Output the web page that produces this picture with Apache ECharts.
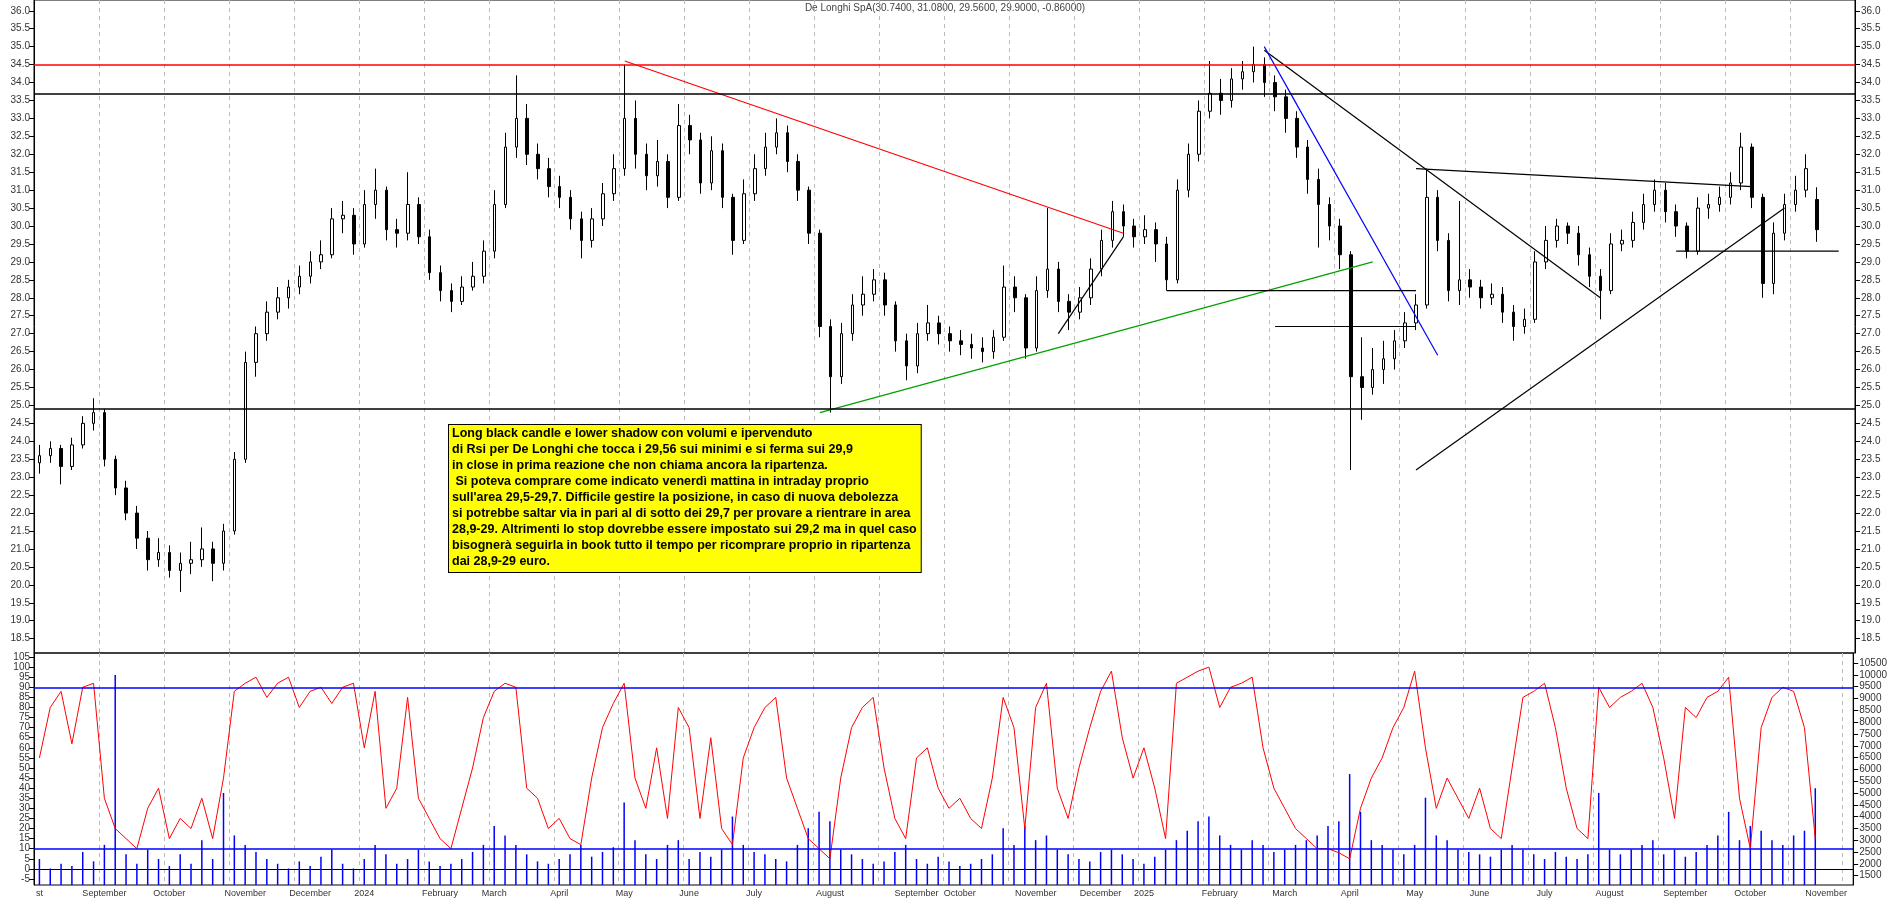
<!DOCTYPE html>
<html><head><meta charset="utf-8">
<script src="https://cdn.jsdelivr.net/npm/echarts@6/dist/echarts.min.js"></script>
<style>html,body{margin:0;padding:0;background:#fff}#c{width:1890px;height:902px}</style>
</head><body><div id="c"></div>
<script>
// [open, close, low, high]
const candles = [
[23.4,23.6,23.1,23.9],[23.6,23.8,23.4,24.0],[23.8,23.3,22.8,23.9],[23.3,23.9,23.2,24.1],[23.9,24.5,23.8,24.7],
[24.5,24.8,24.3,25.2],[24.8,23.5,23.3,24.9],[23.5,22.7,22.5,23.6],[22.7,22.0,21.8,22.9],[22.0,21.3,21.0,22.2],
[21.3,20.7,20.4,21.5],[20.7,20.9,20.5,21.3],[20.9,20.4,20.2,21.1],[20.4,20.6,19.8,20.9],[20.6,20.7,20.3,21.2],
[20.7,21.0,20.5,21.6],[21.0,20.6,20.1,21.2],[20.6,21.5,20.4,21.7],[21.5,23.5,21.4,23.7],[23.5,26.2,23.4,26.5],
[26.2,27.0,25.8,27.2],[27.0,27.6,26.8,27.9],[27.6,28.0,27.4,28.3],[28.0,28.3,27.7,28.5],[28.3,28.6,28.1,28.9],
[28.6,29.0,28.4,29.3],[29.0,29.2,28.8,29.6],[29.2,30.2,29.1,30.5],[30.2,30.3,29.8,30.7],[30.3,29.5,29.2,30.5],
[29.5,30.6,29.4,31.0],[30.6,31.0,30.2,31.6],[31.0,29.9,29.6,31.1],[29.9,29.8,29.4,30.2],[29.8,30.6,29.6,31.5],
[30.6,29.7,29.5,30.8],[29.7,28.7,28.5,29.9],[28.7,28.2,27.9,28.9],[28.2,27.9,27.6,28.4],[27.9,28.3,27.8,28.6],
[28.3,28.6,28.2,29.0],[28.6,29.3,28.4,29.6],[29.3,30.6,29.1,31.0],[30.6,32.2,30.5,32.6],[32.2,33.0,31.9,34.2],
[33.0,32.0,31.7,33.4],[32.0,31.6,31.3,32.3],[31.6,31.1,30.8,31.9],[31.1,30.8,30.5,31.4],[30.8,30.2,29.9,31.0],
[30.2,29.6,29.1,30.4],[29.6,30.2,29.4,30.5],[30.2,30.9,30.0,31.2],[30.9,31.6,30.7,32.0],[31.6,33.0,31.4,34.5],
[33.0,32.0,31.6,33.5],[32.0,31.4,31.0,32.3],[31.4,31.8,31.1,32.4],[31.8,30.8,30.5,32.0],[30.8,32.8,30.7,33.4],
[32.8,32.4,32.0,33.1],[32.4,31.2,30.9,32.6],[31.2,32.1,31.0,32.5],[32.1,30.8,30.5,32.3],[30.8,29.6,29.2,30.9],
[29.6,30.9,29.5,31.3],[30.9,31.6,30.7,32.0],[31.6,32.2,31.4,32.6],[32.2,32.6,32.0,33.0],[32.6,31.8,31.5,32.8],
[31.8,31.0,30.7,32.0],[31.0,29.8,29.5,31.1],[29.8,27.2,26.9,29.9],[27.2,25.8,24.8,27.4],[25.8,27.0,25.6,27.3],
[27.0,27.8,26.8,28.1],[27.8,28.1,27.5,28.6],[28.1,28.5,27.9,28.8],[28.5,27.8,27.5,28.7],[27.8,26.8,26.5,27.9],
[26.8,26.1,25.7,27.0],[26.1,27.0,25.9,27.3],[27.0,27.3,26.8,27.8],[27.3,27.0,26.7,27.5],[27.0,26.8,26.5,27.2],
[26.8,26.7,26.4,27.1],[26.7,26.6,26.3,27.0],[26.6,26.5,26.2,26.9],[26.5,26.9,26.3,27.1],[26.9,28.3,26.8,28.9],
[28.3,28.0,27.6,28.6],[28.0,26.6,26.3,28.1],[26.6,28.2,26.5,28.6],[28.2,28.8,28.0,30.5],[28.8,27.9,27.6,29.0],
[27.9,27.6,27.1,28.1],[27.6,28.0,27.4,28.3],[28.0,28.8,27.8,29.1],[28.8,29.6,28.6,29.9],[29.6,30.4,29.4,30.7],
[30.4,30.0,29.7,30.6],[30.0,29.7,29.4,30.2],[29.7,29.9,29.5,30.3],[29.9,29.5,29.0,30.1],[29.5,28.5,28.2,29.7],
[28.5,31.0,28.4,31.3],[31.0,32.0,30.8,32.3],[32.0,33.2,31.8,33.5],[33.2,33.7,33.0,34.6],[33.7,33.5,33.1,34.1],
[33.5,34.1,33.3,34.4],[34.1,34.3,33.8,34.6],[34.3,34.5,34.0,35.0],[34.5,34.0,33.6,34.7],[34.0,33.6,33.2,34.2],
[33.6,33.0,32.6,33.8],[33.0,32.2,31.9,33.2],[32.2,31.3,30.9,32.4],[31.3,30.6,29.4,31.6],[30.6,30.0,29.6,30.8],
[30.0,29.2,28.8,30.2],[29.2,25.8,23.2,29.3],[25.8,25.5,24.6,26.9],[25.5,26.0,25.3,26.6],[26.0,26.3,25.6,26.8],
[26.3,26.8,26.0,27.1],[26.8,27.3,26.6,27.6],[27.3,27.8,27.1,28.1],[27.8,30.8,27.7,31.6],[30.8,29.6,29.3,31.0],
[29.6,28.2,27.9,29.8],[28.2,28.5,27.8,30.7],[28.5,28.3,28.0,28.8],[28.3,28.0,27.7,28.5],[28.0,28.1,27.8,28.4],
[28.1,27.6,27.3,28.3],[27.6,27.2,26.8,27.8],[27.2,27.4,27.0,27.7],[27.4,29.0,27.3,29.3],[29.0,29.6,28.8,30.0],
[29.6,30.0,29.4,30.2],[30.0,29.8,29.5,30.1],[29.8,29.2,28.9,30.0],[29.2,28.6,28.3,29.4],[28.6,28.2,27.4,28.8],
[28.2,29.5,28.1,29.8],[29.5,29.6,29.3,29.9],[29.6,30.1,29.4,30.4],[30.1,30.6,29.9,30.9],[30.6,31.0,30.4,31.3],
[31.0,30.4,30.1,31.2],[30.4,30.0,29.7,30.6],[30.0,29.3,29.1,30.1],[29.3,30.5,29.2,30.8],[30.5,30.6,30.2,30.9],
[30.6,30.8,30.4,31.1],[30.8,31.2,30.6,31.5],[31.2,32.2,31.0,32.6],[32.2,30.8,30.5,32.3],[30.8,28.4,28.0,30.9],
[28.4,29.8,28.1,30.1],[29.8,30.6,29.6,30.9],[30.6,31.0,30.4,31.4],[31.0,31.6,30.8,32.0],[30.74,29.9,29.56,31.08]
];
const rsi = [55,80,88,62,90,92,35,20,15,10, 30,40,15,25,20,35,15,45,88,92, 95,85,92,95,80,88,90,82,90,92,
60,88,30,40,85,35,25,15,10,30, 50,75,88,92,90,40,35,20,25,15, 12,45,70,82,92,45,30,60,25,80,
70,25,65,20,12,55,70,80,85,45, 30,15,10,5,45,70,80,85,50,25, 15,55,60,40,30,35,25,20,45,85,
70,20,80,92,40,25,50,70,88,98, 65,45,60,40,15,92,95,98,100,80, 90,92,95,60,40,30,20,15,10,10,
8,5,30,45,55,70,80,98,60,30, 45,35,25,40,20,15,50,85,88,92, 70,40,20,15,90,80,85,88,92,80,
55,25,80,75,85,88,95,35,10,70, 85,90,88,70,15];
const volume = [2200,1800,2000,1900,2500,2100,2800,10000,2400,2000, 2600,2200,1900,2400,2000,3000,2200,5000,3200,2800,
2500,2200,2000,1800,2100,1900,2300,2600,2000,1800, 2200,2800,2400,2000,2200,2600,2100,1900,2000,2200,
2500,2800,3600,3200,2800,2400,2100,2000,2200,2400, 2800,2300,2500,2700,4600,3000,2400,2200,2800,3000,
2200,2500,2300,2600,4000,2800,2500,2400,2200,2100, 2800,3500,4200,3800,2600,2400,2200,2000,2100,2500,
2800,2200,2000,2300,2100,1900,2000,2200,2400,3500, 2800,3600,3000,3200,2600,2400,2200,2100,2500,2600,
2400,2200,2000,2300,2600,3000,3400,3800,4000,3200, 2800,2600,3000,2800,2500,2600,2800,3000,3200,3600,
3800,5800,4200,3000,2800,2600,2400,2800,4800,3200, 3000,2600,2500,2400,2300,2600,2800,2600,2400,2200,
2500,2300,2200,2400,5000,2600,2400,2600,2800,3000, 2400,2600,2300,2500,2800,3200,4200,3000,3600,3400,
3000,2800,3200,3400,5200];
const monthLabels = {0:'st',6:'September',12:'October',19:'November',25:'December',30:'2024',37:'February',42:'March',48:'April',54:'May',60:'June',66:'July',73:'August',81:'September',85:'October',92:'November',98:'December',102:'2025',109:'February',115:'March',121:'April',127:'May',133:'June',139:'July',145:'August',152:'September',158:'October',165:'November'};
const nCats = 168;
const cats = Array.from({length:nCats},(_,i)=>String(i));
const priceTicks = []; for(let v=18.5; v<=36.01; v+=0.5) priceTicks.push(+v.toFixed(1));
const rsiTicks = []; for(let v=-5; v<=105; v+=5) rsiTicks.push(v);
const volTicks = []; for(let v=1000; v<=10500; v+=500) volTicks.push(v);
const trendLines = [
 {pts:[[54.1,34.6],[100,29.8]], color:'#ff0000'},
 {pts:[[71.9,24.8],[123.3,29.0]], color:'#00a000'},
 {pts:[[94.4,27.0],[100,29.7]], color:'#000'},
 {pts:[[113,34.9],[143.9,28.0]], color:'#000'},
 {pts:[[113,35.0],[128.7,26.4]], color:'#0000ff'},
 {pts:[[127,23.2],[161.4,30.5]], color:'#000'},
 {pts:[[103.7,28.2],[127.4,28.2]], color:'#000'},
 {pts:[[113.9,27.2],[127.4,27.2]], color:'#000'},
 {pts:[[127.4,31.6],[157.8,31.1]], color:'#000'},
 {pts:[[150.6,29.3],[166,29.3]], color:'#000'}
];
const hLines = [{y:34.5,color:'#ff0000'},{y:33.7,color:'#000'},{y:24.9,color:'#000'}];
const note = "Long black candle e lower shadow con volumi e ipervenduto\ndi Rsi per De Longhi che tocca i 29,56 sui minimi e si ferma sui 29,9\nin close in prima reazione che non chiama ancora la ripartenza.\n Si poteva comprare come indicato venerdì mattina in intraday proprio\nsull'area 29,5-29,7. Difficile gestire la posizione, in caso di nuova debolezza\nsi potrebbe saltar via in pari al di sotto dei 29,7 per provare a rientrare in area\n28,9-29. Altrimenti lo stop dovrebbe essere impostato sui 29,2 ma in quel caso\nbisognerà seguirla in book tutto il tempo per ricomprare proprio in ripartenza\ndai 28,9-29 euro.";

const lab = {color:'#333', fontSize:10, fontFamily:'Liberation Sans'};
const split = {show:true, interval:5, lineStyle:{color:'#bbb', type:[4,4]}};
const chart = echarts.init(document.getElementById('c'));
const series = [
 {type:'candlestick', xAxisIndex:0, yAxisIndex:0, data:candles, barMaxWidth:3,
  itemStyle:{color:'#fff', color0:'#000', borderColor:'#000', borderColor0:'#000', borderWidth:1},
  markLine:{silent:true, symbol:'none', label:{show:false},
   data: hLines.map(h=>({yAxis:h.y, lineStyle:{color:h.color,width:1.5,type:'solid'}}))}},
 {type:'line', xAxisIndex:1, yAxisIndex:2, data:rsi, symbol:'none', lineStyle:{color:'#ff0000',width:1}, z:3,
  markLine:{silent:true, symbol:'none', label:{show:false},
   data:[{yAxis:90},{yAxis:10}], lineStyle:{color:'#0000ff',width:1.5,type:'solid'}}},
 {type:'bar', xAxisIndex:1, yAxisIndex:3, data:volume, barWidth:1.5, itemStyle:{color:'#0000ff'}, z:2}
];
trendLines.forEach(t=>series.push({type:'line', xAxisIndex:0, yAxisIndex:0, data:t.pts, symbol:'none',
  lineStyle:{color:t.color,width:1.2}, z:4}));
chart.setOption({
 animation:false,
 grid:[{left:34,right:35,top:0,height:653,show:true,borderColor:'#000',borderWidth:1},
       {left:34,right:35,top:653,height:232,show:true,borderColor:'#000',borderWidth:1}],
 xAxis:[
  {type:'category',gridIndex:0,data:cats,axisLabel:{show:false},axisTick:{show:false},axisLine:{show:false},splitLine:split},
  {type:'category',gridIndex:1,data:cats,axisTick:{show:false},axisLine:{lineStyle:{color:'#000'}},splitLine:split,
   axisLabel:Object.assign({},lab,{interval:0,fontSize:9,margin:4,formatter:(v,i)=>monthLabels[i]||''})}
 ],
 yAxis:[
  {type:'value',gridIndex:0,position:'right',min:18.1,max:36.3,splitLine:{show:false},
   axisLine:{show:true,lineStyle:{color:'#000'}},axisTick:{show:true,customValues:priceTicks,length:5},
   axisLabel:Object.assign({},lab,{customValues:priceTicks,formatter:v=>v.toFixed(1),margin:6})},
  {type:'value',gridIndex:0,position:'left',min:18.1,max:36.3,splitLine:{show:false},
   axisLine:{show:true,lineStyle:{color:'#000'}},axisTick:{show:true,customValues:priceTicks,length:5},
   axisLabel:Object.assign({},lab,{customValues:priceTicks,formatter:v=>v.toFixed(1),margin:4})},
  {type:'value',gridIndex:1,position:'left',min:-8,max:107,splitLine:{show:false},
   axisLine:{show:true,lineStyle:{color:'#000'}},axisTick:{show:true,customValues:rsiTicks,length:5},
   axisLabel:Object.assign({},lab,{customValues:rsiTicks,margin:4,formatter:v=>String(v)})},
  {type:'value',gridIndex:1,position:'right',min:1100,max:10930,splitLine:{show:false},
   axisLine:{show:true,lineStyle:{color:'#000'}},axisTick:{show:true,customValues:volTicks,length:5},
   axisLabel:Object.assign({},lab,{customValues:volTicks,margin:6,formatter:v=>String(v)})}
 ],
 graphic:[
  {type:'text',left:'center',top:3,style:{text:'De Longhi SpA(30.7400, 31.0800, 29.5600, 29.9000, -0.86000)',fill:'#444',font:'10px "Liberation Sans"'}},
  {type:'text',left:448,top:424,z:100,style:{text:note,fill:'#000',font:'bold 12.5px "Liberation Sans"',lineHeight:16,
   backgroundColor:'#ffff00',borderColor:'#000',borderWidth:1,padding:[1,4,2,3]}}
 ],
 series
});
</script></body></html>
